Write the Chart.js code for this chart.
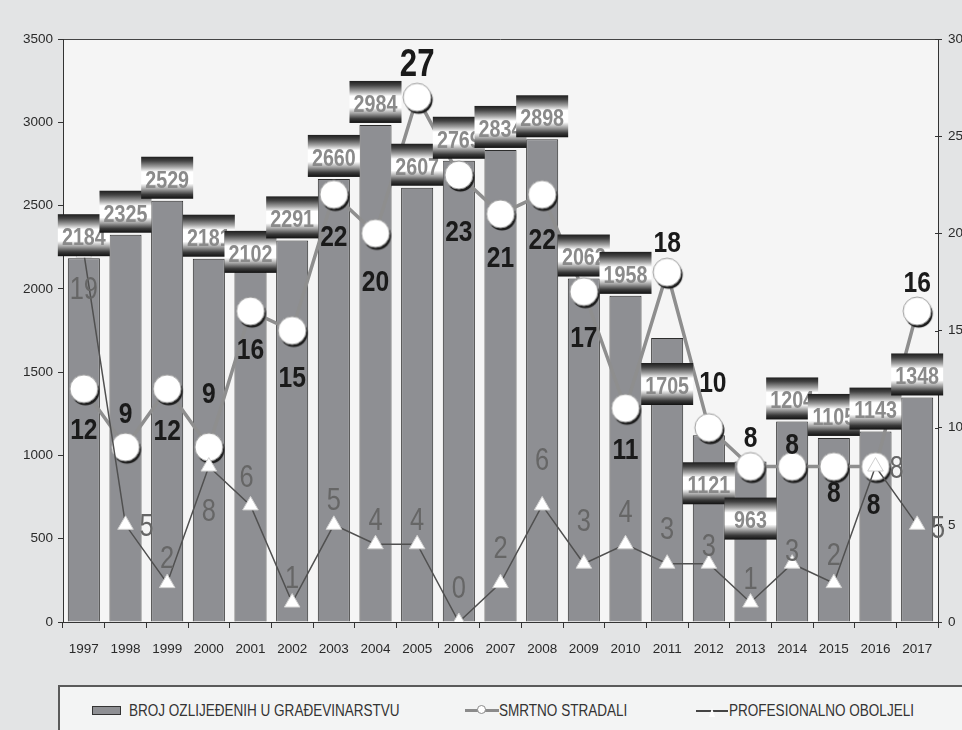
<!DOCTYPE html>
<html lang="hr">
<head>
<meta charset="UTF-8" />
<title>Ozljede u građevinarstvu 1997-2017</title>
<script src="https://cdn.jsdelivr.net/npm/chart.js@4.4.0/dist/chart.umd.min.js"></script>
<style>
  html, body { margin: 0; padding: 0; background: #e3e4e5; overflow: hidden; }
  #wrap { position: relative; width: 962px; height: 730px; overflow: hidden; }
  #chart { position: absolute; left: 0; top: 0; }
  .legend-box { position: absolute; left: 58px; top: 685px; width: 960px; height: 80px;
    border: 2px solid #5a5a5a; background: #f3f4f4; box-sizing: border-box; }
  .txt { position: absolute; top: 701px; font: 16.5px "Liberation Sans", Arial, sans-serif; color: #333;
    white-space: nowrap; transform: scaleX(0.82); transform-origin: left center; line-height: 19px; }
  .swatch { position: absolute; left: 92px; top: 706px; width: 29px; height: 9px;
    background: #8e8f93; border: 1.5px solid #333; box-sizing: border-box; }
  .mk { position: absolute; }
</style>
</head>
<body>
<div id="wrap">
  <canvas id="chart" width="990" height="730"></canvas>
  <div class="legend-box"></div>
  <div class="swatch"></div>
  <div class="txt" style="left:129px">BROJ OZLIJEĐENIH U GRAĐEVINARSTVU</div>
  <div class="mk" style="left:465px;top:709px;width:34px;height:3px;background:#8b8b8b"></div>
  <div class="mk" style="left:477px;top:705px;width:9px;height:9px;border:1.5px solid #8b8b8b;border-radius:50%;background:#fff;box-sizing:border-box"></div>
  <div class="txt" style="left:499px">SMRTNO STRADALI</div>
  <div class="mk" style="left:696px;top:710px;width:32px;height:2px;background:#444"></div>
  <div class="mk" style="left:709px;top:708px;width:0;height:0;border-left:3px solid transparent;border-right:3px solid transparent;border-bottom:9px solid #fff"></div>
  <div class="txt" style="left:729px">PROFESIONALNO OBOLJELI</div>
</div>

<script>
  // Data
  const years = ["1997", "1998", "1999", "2000", "2001", "2002", "2003", "2004", "2005", "2006", "2007",
    "2008", "2009", "2010", "2011", "2012", "2013", "2014", "2015", "2016", "2017"];
  const injuries = [2184, 2325, 2529, 2181, 2102, 2291, 2660, 2984, 2607, 2769, 2834,
    2898, 2062, 1958, 1705, 1121, 963, 1204, 1105, 1143, 1348];
  const deaths = [12, 9, 12, 9, 16, 15, 22, 20, 27, 23, 21, 22, 17, 11, 18, 10, 8, 8, 8, 8, 16];
  const occupational = [19, 5, 2, 8, 6, 1, 5, 4, 4, 0, 2, 6, 3, 4, 3, 3, 1, 3, 2, 8, 5];

  // Label placement (pixels), kept apart from the values
  const boxShift = [0, 0, 0, 0, 3, 0, 0, 0, 0, 0, 0, 0, 0, 0, 69, 71, 80, 0, 0, 0, 0];
  const deathDy = [39, -35, 40, -55, 37, 46, 41, 47, -35, 55, 42, 44, 45, 40, -31, -46, -30, -23, 25, 37, -30];
  const deathDx = [0, 0, 0, 0, 0, 0, 0, 0, 0, 0, 0, 0, 0, 0, 0, 4, 0, 0, 0, -2, 0];
  const occDy = [35, 0, -26, 43, -29, -26, -26, -25, -25, -35, -36, -46, -44, -33, -36, -19, -25, -14, -29, 0, 2];
  const occDx = [0, 21, 0, 0, -4, 0, 0, 0, 0, 0, 0, 0, 0, 0, 0, 0, 0, 0, 0, 21, 21];

  function hasFont(name) {
    const c = document.createElement("canvas").getContext("2d");
    c.font = "40px monospace";
    const a = c.measureText("1997 ABCmwi").width;
    c.font = '40px "' + name + '", monospace';
    return c.measureText("1997 ABCmwi").width !== a;
  }
  const tickFont = hasFont("Liberation Sans Narrow")
    ? { family: '"Liberation Sans Narrow"', size: 15 }
    : { family: '"Liberation Sans", Arial', size: 13.5 };

  // white circle with a dark drop shadow
  function circleMarker() {
    const c = document.createElement("canvas");
    c.width = 40;
    c.height = 40;
    const g = c.getContext("2d");
    g.fillStyle = "#1c1c1c";
    g.beginPath();
    g.arc(21.5, 22.5, 14, 0, Math.PI * 2);
    g.fill();
    g.fillStyle = "#fff";
    g.strokeStyle = "#9a9a9a";
    g.lineWidth = 1;
    g.beginPath();
    g.arc(20, 20, 14, 0, Math.PI * 2);
    g.fill();
    g.stroke();
    return c;
  }

  function drawText(ctx, txt, x, y, size, weight, color) {
    ctx.save();
    ctx.font = weight + " " + size + 'px "Liberation Sans", Arial, sans-serif';
    ctx.fillStyle = color;
    ctx.textAlign = "center";
    ctx.textBaseline = "alphabetic";
    ctx.translate(x, y + size * 0.358);
    ctx.scale(0.82, 1);
    ctx.fillText(String(txt), 0, 0);
    ctx.restore();
  }

  const plotBackground = {
    id: "plotBackground",
    beforeDraw(chart) {
      const { ctx, chartArea: a } = chart;
      ctx.save();
      ctx.fillStyle = "#f5f5f5";
      ctx.fillRect(a.left, a.top, a.right - a.left, a.bottom - a.top);
      ctx.strokeStyle = "#444";
      ctx.lineWidth = 1;
      ctx.beginPath();
      ctx.moveTo(a.left, a.top + 0.5);
      ctx.lineTo(a.right, a.top + 0.5);
      ctx.stroke();
      ctx.restore();
    },
    afterDraw(chart) {
      // right axis ticks cross the axis line
      const { ctx, chartArea: a } = chart;
      const s = chart.scales.y2;
      ctx.save();
      ctx.strokeStyle = "#333";
      ctx.lineWidth = 1;
      s.ticks.forEach((t) => {
        const y = Math.round(s.getPixelForValue(t.value)) + 0.5;
        ctx.beginPath();
        ctx.moveTo(a.right - 3, y);
        ctx.lineTo(a.right, y);
        ctx.stroke();
      });
      ctx.restore();
    },
  };

  const valueLabels = {
    id: "valueLabels",
    afterDatasetsDraw(chart) {
      const ctx = chart.ctx;
      // death and disease numbers
      chart.getDatasetMeta(2).data.forEach((p, i) => {
        drawText(ctx, occupational[i], p.x + occDx[i], p.y + occDy[i], 31, "normal", "#666");
      });
      chart.getDatasetMeta(1).data.forEach((p, i) => {
        const big = deaths[i] === Math.max(...deaths);
        drawText(ctx, deaths[i], p.x + deathDx[i], p.y + deathDy[i], big ? 38 : 30, "bold", "#1a1a1a");
      });
      // boxed bar values
      chart.getDatasetMeta(0).data.forEach((bar, i) => {
        const w = 52, h = 42;
        const bottom = bar.y - 2 + boxShift[i];
        const top = bottom - h;
        const g = ctx.createLinearGradient(0, top, 0, bottom);
        g.addColorStop(0, "#1e1e1e");
        g.addColorStop(0.1, "#444");
        g.addColorStop(0.24, "#a0a0a0");
        g.addColorStop(0.36, "#fff");
        g.addColorStop(0.64, "#fff");
        g.addColorStop(0.78, "#9a9a9a");
        g.addColorStop(0.9, "#3a3a3a");
        g.addColorStop(1, "#111");
        ctx.fillStyle = g;
        ctx.fillRect(bar.x - w / 2, top, w, h);
        drawText(ctx, injuries[i], bar.x, top + h * 0.53, 24, "bold", "#8a8a8a");
      });
    },
  };

  new Chart(document.getElementById("chart"), {
    type: "bar",
    data: {
      labels: years,
      datasets: [
        {
          label: "BROJ OZLIJEĐENIH U GRAĐEVINARSTVU",
          data: injuries,
          yAxisID: "y",
          backgroundColor: "#8e8f93",
          borderColor: "#2d2d2d",
          borderWidth: 1,
          barPercentage: 0.77,
          categoryPercentage: 1,
          order: 3,
        },
        {
          type: "line",
          label: "SMRTNO STRADALI",
          data: deaths,
          yAxisID: "y2",
          borderColor: "#8e8e8e",
          borderWidth: 3.5,
          pointStyle: circleMarker(),
          pointRadius: 14,
          tension: 0,
          order: 2,
        },
        {
          type: "line",
          label: "PROFESIONALNO OBOLJELI",
          data: occupational,
          yAxisID: "y2",
          borderColor: "#505050",
          borderWidth: 1.5,
          pointStyle: "triangle",
          pointRadius: 9,
          pointBackgroundColor: "#fff",
          pointBorderColor: "#d0d0d0",
          pointBorderWidth: 1,
          tension: 0,
          order: 1,
        },
      ],
    },
    options: {
      responsive: false,
      animation: false,
      layout: { padding: { top: 39, bottom: 68, left: 0, right: 0 } },
      plugins: { legend: { display: false }, tooltip: { enabled: false } },
      scales: {
        x: {
          offset: true,
          grid: { offset: true, drawOnChartArea: false, tickLength: 6, color: "#333" },
          border: { color: "#333" },
          ticks: { font: tickFont, color: "#2a2a2a", padding: 13, maxRotation: 0, autoSkip: false },
          afterFit: (s) => { s.height = 40; },
        },
        y: {
          position: "left",
          min: 0,
          max: 3500,
          ticks: { stepSize: 500, font: tickFont, color: "#2a2a2a", padding: 5, callback: (v) => String(v) },
          grid: { drawOnChartArea: false, tickLength: 5, color: "#333" },
          border: { color: "#333" },
          afterFit: (s) => { s.width = 63; },
        },
        y2: {
          position: "right",
          min: 0,
          max: 30,
          ticks: { stepSize: 5, font: tickFont, color: "#2a2a2a", padding: 6, callback: (v) => String(v) },
          grid: { drawOnChartArea: false, tickLength: 4, color: "#333" },
          border: { color: "#333" },
          afterFit: (s) => { s.width = 52; },
        },
      },
    },
    plugins: [plotBackground, valueLabels],
  });
</script>
</body>
</html>
